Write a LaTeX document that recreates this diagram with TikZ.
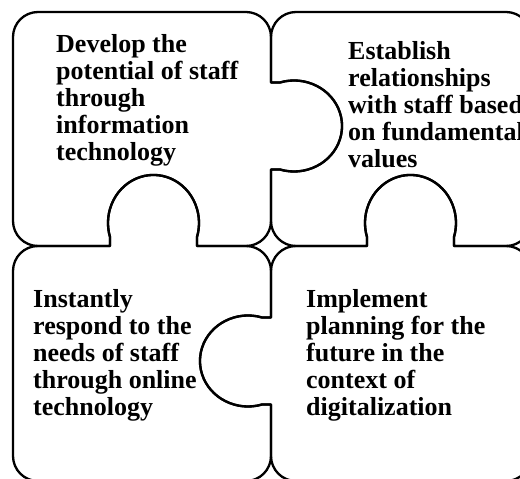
\documentclass[tikz,border=0pt]{standalone}
\usepackage{fontspec}
\setmainfont{Liberation Serif}
\begin{document}
\begin{tikzpicture}[x=1pt,y=1pt,
  piece/.style={draw=black,line width=2.3pt,line join=round},
  lbl/.style={anchor=base west,inner sep=0pt,align=left,
    font=\fontsize{26}{27}\selectfont\bfseries}]
\useasboundingbox (0,0) rectangle (520,479);
\clip (0,0) rectangle (520,479);
% top-left piece
\draw[piece] (13,442) arc[start angle=180,end angle=90,radius=25] -- (246,467)
  arc[start angle=90,end angle=0,radius=25] -- (271,396.5) -- (280,396.5)
  arc[start angle=107,end angle=-107,x radius=48,y radius=45.5] -- (271,309.5)
  -- (271,258) arc[start angle=0,end angle=-90,radius=25] -- (197,233) -- (197,242)
  arc[start angle=-17,end angle=197,x radius=45.5,y radius=48] -- (110,233)
  -- (38,233) arc[start angle=270,end angle=180,radius=25] -- cycle;
% top-right piece
\draw[piece] (271,442) arc[start angle=180,end angle=90,radius=25] -- (506,467)
  arc[start angle=90,end angle=0,radius=25] -- (531,258)
  arc[start angle=0,end angle=-90,radius=25] -- (454,233) -- (454,242)
  arc[start angle=-17,end angle=197,x radius=45.5,y radius=48] -- (367,233)
  -- (296,233) arc[start angle=270,end angle=180,radius=25] -- (271,309.5) -- (280,309.5)
  arc[start angle=-107,end angle=107,x radius=48,y radius=45.5] -- (271,396.5) -- cycle;
% bottom-left piece
\draw[piece] (13,208) arc[start angle=180,end angle=90,radius=25] -- (110,233) -- (110,242)
  arc[start angle=197,end angle=-17,x radius=45.5,y radius=48] -- (197,233)
  -- (246,233) arc[start angle=90,end angle=0,radius=25] -- (271,161.5) -- (262,161.5)
  arc[start angle=73,end angle=287,x radius=48,y radius=45.5] -- (271,74.5)
  -- (271,23) arc[start angle=0,end angle=-90,radius=25] -- (38,-2)
  arc[start angle=270,end angle=180,radius=25] -- cycle;
% bottom-right piece
\draw[piece] (271,208) arc[start angle=180,end angle=90,radius=25] -- (367,233) -- (367,242)
  arc[start angle=197,end angle=-17,x radius=45.5,y radius=48] -- (454,233)
  -- (506,233) arc[start angle=90,end angle=0,radius=25] -- (531,23)
  arc[start angle=0,end angle=-90,radius=25] -- (296,-2)
  arc[start angle=270,end angle=180,radius=25] -- (271,74.5) -- (262,74.5)
  arc[start angle=-73,end angle=-287,x radius=48,y radius=45.5] -- (271,161.5) -- cycle;
% texts (anchored at the baseline of the last line)
\node[lbl] (tl) at (56,318) {Develop the\\potential of staff\\through\\information\\technology};
\node[lbl] (tr) at (348,311) {Establish\\relationships\\with staff based\\on fundamental\\values};
\node[lbl] (bl) at (33,63) {Instantly\\respond to the\\needs of staff\\through online\\technology};
\node[lbl] (br) at (306,63) {Implement\\planning for the\\future in the\\context of\\digitalization};
\end{tikzpicture}
\end{document}
